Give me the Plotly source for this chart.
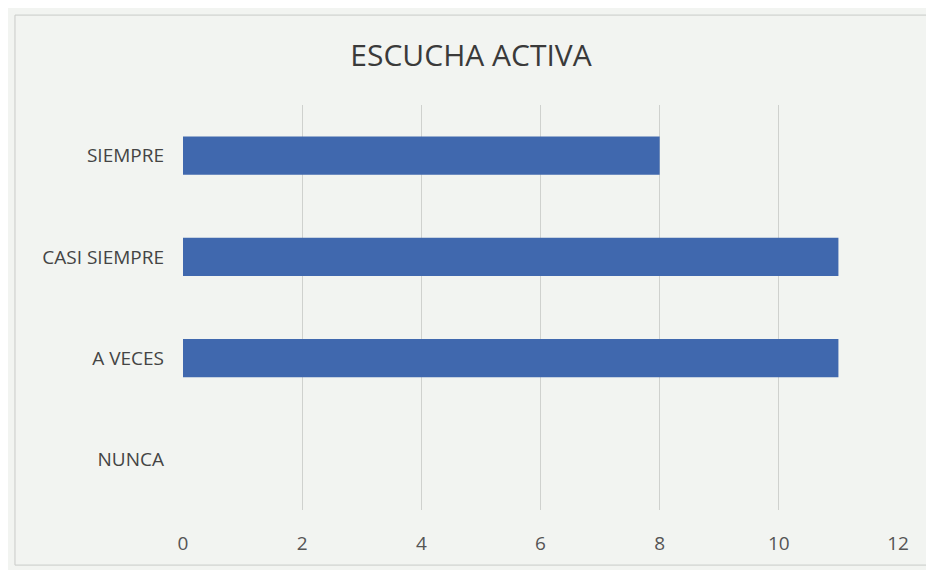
import plotly.graph_objects as go

categories = ["NUNCA", "A VECES", "CASI SIEMPRE", "SIEMPRE"]
values = [0, 11, 11, 8]
x_ticks = [0, 2, 4, 6, 8, 10, 12]

fig = go.Figure(go.Bar(
    y=categories, x=values, orientation="h",
    marker=dict(color="#4068ae", line=dict(width=0)),
    width=0.38,
))

fig.update_layout(
    width=926, height=562,
    paper_bgcolor="#f2f4f1", plot_bgcolor="#f2f4f1",
    margin=dict(l=175, r=36, t=97, b=60),
    title=dict(text="ESCUCHA ACTIVA", x=0.5, xanchor="center", y=0.915, yanchor="middle",
               font=dict(family="Open Sans", size=30, color="#3a3a3a")),
    showlegend=False,
    font=dict(family="Open Sans", color="#555555"),
)
fig.update_xaxes(range=[0, 12], tickvals=x_ticks, showgrid=True, gridcolor="#cfd1ce", gridwidth=1,
                 zeroline=False, showline=False, ticklabelstandoff=20,
                 tickfont=dict(size=19, color="#555555"))
fig.update_yaxes(showgrid=False, showline=False, ticklabelstandoff=18,
                 categoryorder="array", categoryarray=categories,
                 tickfont=dict(size=19, color="#444444"))
fig.add_shape(type="rect", xref="paper", yref="paper", x0=-0.235, x1=1.06, y0=-0.136, y1=1.222,
              line=dict(color="#c9cbc8", width=1), fillcolor="rgba(0,0,0,0)", layer="below")
fig.write_html("out.html")
